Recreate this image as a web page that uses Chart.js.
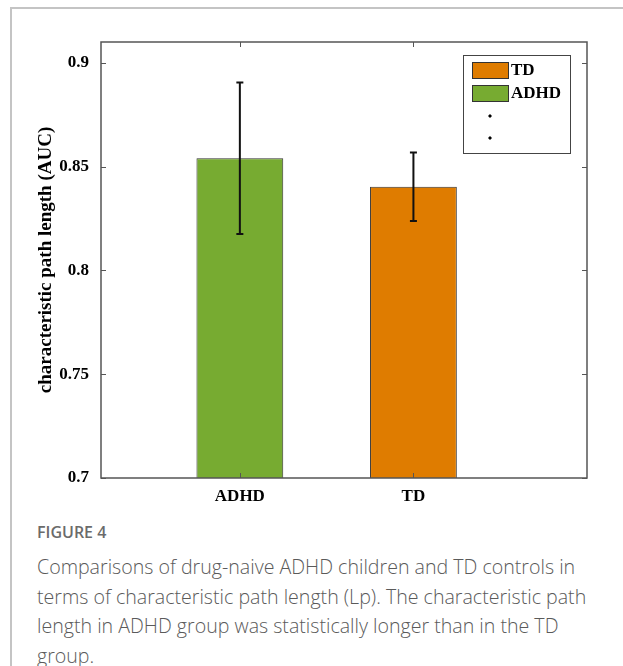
<!DOCTYPE html>
<html>
<head>
<meta charset="utf-8">
<script src="https://cdn.jsdelivr.net/npm/chart.js@4"></script>
<style>
  body { margin: 0; background: #fff; width: 623px; height: 666px; overflow: hidden; position: relative; }
  #frameTop { position: absolute; left: 10px; top: 7px; width: 613px; height: 0; border-top: 2px solid #c4c4c4; }
  #frameLeft { position: absolute; left: 10px; top: 7px; width: 0; height: 659px; border-left: 2px solid #c4c4c4; }
  #wrap { position: absolute; left: 0; top: 0; width: 623px; height: 510px; }
  #fig { position: absolute; left: 37px; top: 521px; font-family: "Open Sans", sans-serif; font-size: 16px; color: #6b6b6b; font-weight: 600; }
  #cap { position: absolute; left: 37px; top: 552px; font-family: "Open Sans", sans-serif; font-size: 19.6px; line-height: 29.7px; color: #5a5a5a; font-weight: 300; white-space: nowrap; }
</style>
</head>
<body>
<div id="frameTop"></div>
<div id="frameLeft"></div>
<div id="wrap"><canvas id="myChart" width="623" height="510"></canvas></div>
<div id="fig">FIGURE 4</div>
<div id="cap">Comparisons of drug-naive ADHD children and TD controls in<br>terms of characteristic path length (Lp). The characteristic path<br>length in ADHD group was statistically longer than in the TD<br>group.</div>
<script>
const categories = ['ADHD', 'TD'];
const positions = [1, 2];
const means = [0.854, 0.8403];
const errors = [0.0365, 0.0165];
const colors = ['#77ab31', '#df7c00'];
const yTicks = [0.7, 0.75, 0.8, 0.85, 0.9];
const legendOrder = [1, 0];

const serifBold = { family: '"Liberation Serif", "Times New Roman", serif', weight: 'bold', size: 17 };

const errorBars = {
  id: 'errorBars',
  afterDatasetsDraw(chart) {
    const ctx = chart.ctx;
    const xs = chart.scales.x, ys = chart.scales.y;
    ctx.save();
    ctx.strokeStyle = '#111';
    ctx.lineWidth = 2;
    for (let i = 0; i < means.length; i++) {
      const x = xs.getPixelForValue(positions[i]);
      const top = ys.getPixelForValue(means[i] + errors[i]);
      const bot = ys.getPixelForValue(means[i] - errors[i]);
      ctx.beginPath();
      ctx.moveTo(x, top); ctx.lineTo(x, bot);
      ctx.moveTo(x - 3.5, top); ctx.lineTo(x + 3.5, top);
      ctx.moveTo(x - 3.5, bot); ctx.lineTo(x + 3.5, bot);
      ctx.stroke();
    }
    ctx.restore();
  }
};

const boxAndLegend = {
  id: 'boxAndLegend',
  afterDraw(chart) {
    const ctx = chart.ctx;
    const a = chart.chartArea;
    const xs = chart.scales.x, ys = chart.scales.y;
    ctx.save();
    // box
    ctx.strokeStyle = '#555';
    ctx.lineWidth = 1.5;
    ctx.strokeRect(a.left, a.top, a.right - a.left, a.bottom - a.top);
    // inward ticks
    ctx.lineWidth = 1;
    ctx.beginPath();
    yTicks.forEach(v => {
      const y = Math.round(ys.getPixelForValue(v)) + 0.5;
      ctx.moveTo(a.left, y); ctx.lineTo(a.left + 5, y);
      ctx.moveTo(a.right, y); ctx.lineTo(a.right - 5, y);
    });
    positions.forEach(v => {
      const x = Math.round(xs.getPixelForValue(v)) + 0.5;
      ctx.moveTo(x, a.top); ctx.lineTo(x, a.top + 5);
      ctx.moveTo(x, a.bottom); ctx.lineTo(x, a.bottom - 5);
    });
    ctx.stroke();
    // legend
    const lx = a.right - 124, ly = a.top + 13;
    ctx.fillStyle = '#fff';
    ctx.fillRect(lx, ly, 107, 98);
    ctx.strokeStyle = '#444';
    ctx.lineWidth = 1;
    ctx.strokeRect(lx + 0.5, ly + 0.5, 107, 98);
    ctx.font = 'bold 17px "Liberation Serif", serif';
    ctx.textBaseline = 'middle';
    legendOrder.forEach((idx, k) => {
      const y = ly + 7 + k * 23;
      ctx.fillStyle = colors[idx];
      ctx.fillRect(lx + 9, y, 36, 16);
      ctx.strokeStyle = '#333';
      ctx.strokeRect(lx + 9.5, y + 0.5, 36, 16);
      ctx.fillStyle = '#000';
      ctx.fillText(categories[idx], lx + 48, y + 9);
    });
    ctx.fillStyle = '#000';
    [ly + 61, ly + 83].forEach(y => {
      ctx.beginPath();
      ctx.moveTo(lx + 27, y - 2); ctx.lineTo(lx + 29, y); ctx.lineTo(lx + 27, y + 2); ctx.lineTo(lx + 25, y);
      ctx.closePath(); ctx.fill();
    });
    ctx.restore();
  }
};

const ctx = document.getElementById('myChart').getContext('2d');
const myChart = new Chart(ctx, {
  type: 'bar',
  data: {
    datasets: [{
      data: positions.map((p, i) => ({ x: p, y: means[i] })),
      backgroundColor: colors,
      borderColor: '#333',
      borderWidth: 1,
      barPercentage: 0.5,
      categoryPercentage: 1
    }]
  },
  options: {
    responsive: false,
    devicePixelRatio: 1,
    animation: false,
    layout: { padding: { top: 42, right: 36, left: 0, bottom: 0 } },
    plugins: { legend: { display: false }, tooltip: { enabled: false } },
    scales: {
      x: {
        type: 'linear',
        offset: false,
        min: 0.2,
        max: 3.0,
        grid: { display: false, offset: false },
        border: { display: false },
        afterBuildTicks: s => { s.ticks = positions.map(v => ({ value: v })); },
        afterFit: s => { s.height = 32; },
        ticks: {
          color: '#000',
          font: serifBold,
          padding: 0,
          callback: v => categories[positions.indexOf(v)]
        }
      },
      y: {
        min: 0.7,
        max: 0.91,
        grid: { display: false },
        border: { display: false },
        afterBuildTicks: s => { s.ticks = yTicks.map(v => ({ value: v })); },
        afterFit: s => { s.width = 101; },
        ticks: {
          color: '#000',
          font: serifBold,
          padding: 4,
          callback: v => String(v)
        },
        title: {
          display: true,
          text: 'characteristic path length (AUC)',
          color: '#000',
          font: { family: '"Liberation Serif", serif', weight: 'bold', size: 19 },
          padding: { top: 35, bottom: 0 }
        }
      }
    }
  },
  plugins: [errorBars, boxAndLegend]
});
</script>
</body>
</html>
